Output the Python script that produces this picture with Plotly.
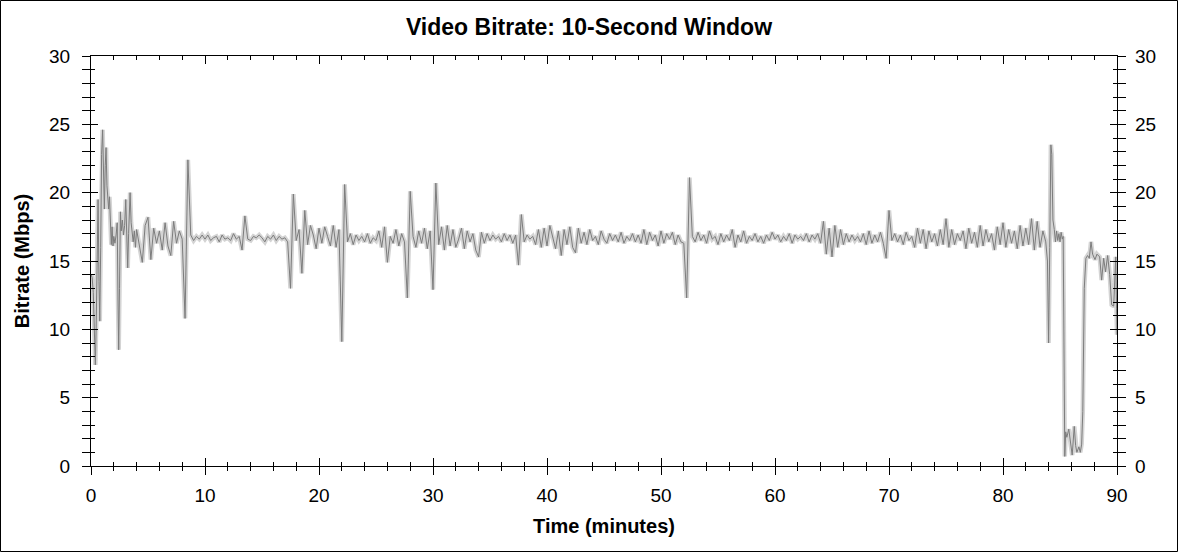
import numpy as np
import plotly.graph_objects as go

# ---------------- data ----------------
# Opening minutes: irregular sampling to capture the fast swings
EARLY_TIMES = [0.0, 0.1, 0.2, 0.3, 0.38, 0.45, 0.52, 0.62, 0.7, 0.77, 0.85, 0.93,
               1.02, 1.1, 1.17, 1.25, 1.32, 1.4, 1.48, 1.55, 1.62, 1.7, 1.78, 1.85,
               1.93, 2.0, 2.1, 2.2, 2.3, 2.37, 2.43, 2.5, 2.58, 2.65, 2.75, 2.85,
               2.95, 3.05, 3.15, 3.22, 3.3, 3.43, 3.52, 3.6, 3.7, 3.8, 3.9]
EARLY_RATES = [14.0, 13.8, 12.7, 8.5, 7.4, 10.0, 14.2, 19.5, 13.5, 10.6, 16.0, 22.8,
               24.6, 21.5, 18.8, 22.0, 23.3, 20.5, 19.4, 18.8, 19.7, 18.4, 16.2, 17.5,
               16.1, 16.8, 16.3, 16.9, 17.8, 12.0, 8.5, 13.0, 18.6, 17.2, 18.0, 16.9,
               17.6, 19.5, 16.5, 14.5, 17.0, 20.0, 17.8, 17.3, 16.4, 17.2, 16.0]

# Main body: one reading every quarter minute from minute 4.0 to 83.75
MID_START_MIN = 4.0
MID_STEP_MIN = 0.25
MID_RATES = [
    17.3, 16.2, 14.9, 17.6,   # 4
    18.2, 15.1, 17.4, 16.3,   # 5
    17.2, 15.8, 17.8, 16.1,   # 6
    15.4, 17.9, 16.3, 17.2,   # 7
    16.6, 10.8, 22.4, 16.9,   # 8
    16.5, 16.8, 16.6, 16.9,   # 9
    16.6, 16.9, 16.5, 16.7,   # 10
    16.8, 16.4, 16.9, 16.6,   # 11
    16.7, 16.5, 17.0, 16.6,   # 12
    16.8, 15.8, 18.3, 16.6,   # 13
    16.5, 16.8, 16.7, 16.9,   # 14
    16.7, 16.4, 16.8, 16.6,   # 15
    16.9, 16.5, 16.8, 16.6,   # 16
    16.7, 16.4, 13.0, 19.9,   # 17
    16.5, 17.3, 14.1, 18.7,   # 18
    16.2, 17.6, 16.9, 15.9,   # 19
    17.4, 16.3, 17.5, 16.8,   # 20
    16.1, 17.6, 16.0, 17.3,   # 21
    9.1, 20.6, 16.4, 17.0,    # 22
    16.2, 16.9, 16.5, 16.8,   # 23
    16.4, 17.0, 16.3, 16.7,   # 24
    16.5, 17.2, 16.0, 17.5,   # 25
    14.9, 16.8, 16.3, 17.3,   # 26
    16.1, 17.0, 16.4, 12.3,   # 27
    20.1, 16.8, 16.0, 17.2,   # 28
    16.3, 17.4, 15.9, 17.2,   # 29
    12.9, 20.7, 16.2, 17.5,   # 30
    15.8, 17.6, 16.1, 17.3,   # 31
    16.0, 16.6, 17.4, 15.9,   # 32
    17.2, 16.4, 17.0, 15.8,   # 33
    15.3, 17.1, 16.3, 17.0,   # 34
    16.5, 16.9, 16.6, 16.8,   # 35
    16.4, 17.0, 16.5, 16.9,   # 36
    16.3, 16.9, 14.7, 18.4,   # 37
    16.4, 16.9, 16.6, 16.8,   # 38
    16.2, 17.3, 16.0, 17.4,   # 39
    16.1, 17.6, 16.8, 15.9,   # 40
    17.2, 15.4, 17.3, 16.2,   # 41
    17.5, 16.0, 15.6, 17.4,   # 42
    16.3, 17.1, 16.2, 17.3,   # 43
    16.5, 16.8, 16.2, 17.2,   # 44
    16.6, 16.3, 17.0, 16.5,   # 45
    16.9, 16.4, 17.1, 16.3,   # 46
    16.8, 16.5, 17.0, 16.4,   # 47
    16.9, 16.3, 17.3, 16.2,   # 48
    17.1, 16.5, 16.9, 16.1,   # 49
    17.2, 16.3, 17.0, 16.6,   # 50
    17.1, 16.2, 16.9, 16.4,   # 51
    16.3, 12.3, 21.1, 16.8,   # 52
    16.4, 17.1, 16.5, 16.9,   # 53
    16.3, 17.2, 16.6, 16.8,   # 54
    16.2, 17.0, 16.4, 16.9,   # 55
    16.5, 17.3, 16.0, 16.9,   # 56
    16.4, 17.2, 16.3, 16.8,   # 57
    16.5, 17.0, 16.4, 16.8,   # 58
    16.3, 16.9, 16.5, 17.1,   # 59
    16.6, 16.9, 16.4, 16.8,   # 60
    16.5, 17.0, 16.3, 16.9,   # 61
    16.6, 16.8, 16.5, 17.0,   # 62
    16.4, 16.9, 16.6, 17.0,   # 63
    16.3, 17.9, 15.5, 17.4,   # 64
    15.3, 17.6, 16.0, 17.3,   # 65
    16.2, 17.0, 16.4, 16.9,   # 66
    16.5, 16.8, 16.4, 17.0,   # 67
    16.2, 17.2, 16.3, 16.9,   # 68
    16.4, 17.1, 16.3, 15.2,   # 69
    18.7, 16.5, 17.0, 16.4,   # 70
    16.9, 16.2, 17.1, 16.5,   # 71
    16.8, 16.0, 17.4, 16.3,   # 72
    17.3, 15.9, 17.2, 16.4,   # 73
    17.0, 16.1, 17.3, 16.2,   # 74
    18.1, 16.0, 17.3, 16.2,   # 75
    17.0, 16.5, 17.2, 15.9,   # 76
    17.4, 16.3, 17.1, 16.0,   # 77
    17.6, 16.1, 17.3, 16.4,   # 78
    17.0, 15.8, 17.5, 16.2,   # 79
    17.8, 16.0, 17.3, 16.3,   # 80
    17.2, 15.9, 17.6, 16.1,   # 81
    17.4, 16.2, 18.1, 15.8,   # 82
    17.9, 16.0, 17.2, 16.4,   # 83
]

# Closing minutes: irregular sampling for the spike, the drop-out and the tail
LATE_TIMES = [83.9, 84.0, 84.1, 84.2, 84.28, 84.38, 84.5, 84.6, 84.7, 84.8, 84.9,
              85.0, 85.1, 85.2, 85.28, 85.42, 85.5, 85.6, 85.77, 85.95, 86.07,
              86.25, 86.37, 86.48, 86.66, 86.78, 86.9, 87.0, 87.07, 87.13, 87.27,
              87.42, 87.57, 87.72, 87.86, 88.07, 88.24, 88.48, 88.65, 88.83, 88.99,
              89.18, 89.36, 89.53, 89.71, 89.89, 89.96, 90.0]
LATE_RATES = [15.0, 9.0, 16.0, 23.5, 22.8, 18.0, 17.3, 16.4, 17.2, 16.5, 17.0,
              16.4, 17.1, 16.6, 16.8, 0.7, 2.5, 2.1, 2.7, 1.5, 0.8,
              2.9, 1.5, 1.0, 1.4, 1.0, 1.6, 4.0, 9.0, 13.0, 15.2,
              15.4, 15.2, 16.4, 15.5, 15.1, 15.5, 15.3, 13.6, 15.2, 14.2,
              15.4, 14.0, 11.8, 11.7, 15.3, 11.5, 9.6]

TITLE = "Video Bitrate: 10-Second Window"
X_TITLE = "Time (minutes)"
Y_TITLE = "Bitrate (Mbps)"
X_TICKS = [0, 10, 20, 30, 40, 50, 60, 70, 80, 90]
Y_TICKS = [0, 5, 10, 15, 20, 25, 30]

# ---------------- assemble series ----------------
mid_times = MID_START_MIN + MID_STEP_MIN * np.arange(len(MID_RATES))
times = np.concatenate([EARLY_TIMES, mid_times, LATE_TIMES])
rates = np.concatenate([EARLY_RATES, MID_RATES, LATE_RATES])

FONT = "Liberation Sans, Arial, sans-serif"
W, H = 1178, 552
ML, MR, MT, MB = 91, 61, 56, 86

fig = go.Figure()
# light envelope
fig.add_trace(go.Scatter(x=times, y=rates, mode="lines",
                         line=dict(color="#d4d4d4", width=4.5),
                         hoverinfo="skip", showlegend=False))
# main bitrate line
fig.add_trace(go.Scatter(x=times, y=rates, mode="lines",
                         line=dict(color="#7c7c7c", width=1.0),
                         showlegend=False, name="Bitrate"))
# helper (empty) traces so overlay axes get drawn
fig.add_trace(go.Scatter(x=[None], y=[None], xaxis="x2", yaxis="y", showlegend=False))
fig.add_trace(go.Scatter(x=[None], y=[None], xaxis="x", yaxis="y2", showlegend=False))
fig.add_trace(go.Scatter(x=[None], y=[None], xaxis="x", yaxis="y3", showlegend=False))

tickfont = dict(family=FONT, size=19, color="black")
xr = [0, 90]
yr = [0, 30]

fig.update_layout(
    width=W, height=H,
    margin=dict(l=ML, r=MR, t=MT, b=MB),
    paper_bgcolor="white", plot_bgcolor="white",
    title=dict(text=TITLE, x=0.5, xref="container", xanchor="center",
               y=1 - 27 / H, yref="container", yanchor="middle",
               font=dict(family=FONT, size=23, color="black", weight="bold")),
    xaxis=dict(range=xr, tickvals=X_TICKS, ticks="outside", ticklen=8, tickwidth=1,
               tickcolor="black", showline=True, linecolor="black", linewidth=1,
               showgrid=False, zeroline=False, tickfont=tickfont, ticklabelstandoff=4,
               minor=dict(dtick=2, ticks="outside", ticklen=4, tickcolor="black", showgrid=False),
               title=dict(text=X_TITLE, standoff=14,
                          font=dict(family=FONT, size=20, color="black", weight="bold"))),
    xaxis2=dict(range=xr, overlaying="x", anchor="y", side="bottom", tickvals=X_TICKS,
                ticks="inside", ticklen=8, tickcolor="black", showticklabels=False,
                showline=True, linecolor="black", mirror="allticks", showgrid=False,
                zeroline=False,
                minor=dict(dtick=2, ticks="inside", ticklen=4, tickcolor="black", showgrid=False)),
    yaxis=dict(range=yr, tickvals=Y_TICKS, ticks="outside", ticklen=8, tickcolor="black",
               showline=True, linecolor="black", linewidth=1, mirror="allticks",
               showgrid=False, zeroline=False, tickfont=tickfont, ticklabelstandoff=8,
               minor=dict(dtick=1, ticks="outside", ticklen=4, tickcolor="black", showgrid=False),
               title=dict(text=Y_TITLE, standoff=14,
                          font=dict(family=FONT, size=20, color="black", weight="bold"))),
    yaxis2=dict(range=yr, overlaying="y", anchor="x", side="right", tickvals=Y_TICKS,
                ticks="", showline=False, showgrid=False, zeroline=False,
                tickfont=tickfont, ticklabelstandoff=17),
    yaxis3=dict(range=yr, overlaying="y", anchor="x", side="left", tickvals=Y_TICKS,
                ticks="inside", ticklen=7, tickcolor="black", showticklabels=False,
                showline=False, mirror="allticks", showgrid=False, zeroline=False,
                minor=dict(dtick=1, ticks="inside", ticklen=4, tickcolor="black", showgrid=False)),
)

# outer frame of the image
pw = W - ML - MR
ph = H - MT - MB
fig.add_shape(type="rect", xref="paper", yref="paper",
              x0=(0.5 - ML) / pw, x1=(W - 0.5 - ML) / pw,
              y0=-(MB - 0.5) / ph, y1=1 + (MT - 0.5) / ph,
              line=dict(color="black", width=1), layer="below")

fig.write_html("out.html", config={"displayModeBar": False})

# remove the default page margin so the figure sits at the window's corner
with open("out.html", "r", encoding="utf-8") as f:
    html = f.read()
html = html.replace("<head>", "<head><style>html,body{margin:0;padding:0;overflow:hidden;}</style>", 1)
with open("out.html", "w", encoding="utf-8") as f:
    f.write(html)
